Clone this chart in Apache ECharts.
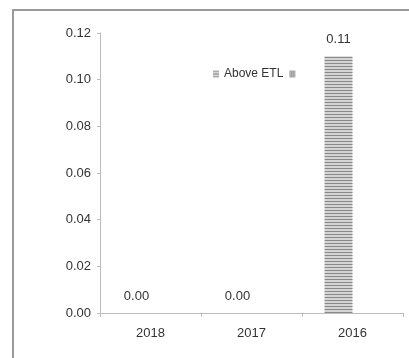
<!DOCTYPE html>
<html>
<head>
<meta charset="utf-8">
<script src="https://cdn.jsdelivr.net/npm/echarts@6/dist/echarts.min.js"></script>
<style>
  html, body { margin: 0; padding: 0; background: #fff; }
  #chart { width: 409px; height: 358px; }
</style>
</head>
<body>
<div id="chart"></div>
<script>
// Years on the category axis and the share of results above the ETL
const years = ['2018', '2017', '2016'];
const aboveEtl = [0.00, 0.00, 0.11];
const secondSeries = [null, null, null];
const yTicks = { min: 0, max: 0.12, interval: 0.02 };

// Striped fill used for the bars and legend markers
function stripePattern(dark, light, w, h, vertical) {
  const c = document.createElement('canvas');
  c.width = w; c.height = h;
  const ctx = c.getContext('2d');
  ctx.fillStyle = light;
  ctx.fillRect(0, 0, w, h);
  ctx.fillStyle = dark;
  if (vertical) ctx.fillRect(0, 0, 1, h);
  else ctx.fillRect(0, 0, w, 1);
  return { image: c, repeat: 'repeat' };
}

const font = '"Liberation Sans", Arial, sans-serif';
const textColor = '#333';

const chart = echarts.init(document.getElementById('chart'));
chart.setOption({
  animation: false,
  backgroundColor: '#fff',
  textStyle: { fontFamily: font },
  graphic: [{
    type: 'rect',
    shape: { x: 13, y: 10, width: 420, height: 400 },
    style: { fill: 'none', stroke: '#9a9a9a', lineWidth: 2 },
    silent: true
  }],
  grid: { left: 100, right: 6, top: 33, bottom: 45 },
  legend: {
    left: 208, top: 63,
    icon: 'rect',
    itemWidth: 6, itemHeight: 7, itemGap: 6,
    textStyle: { fontFamily: font, fontSize: 12, color: textColor },
    data: ['Above ETL', ' ']
  },
  xAxis: {
    type: 'category',
    data: years,
    axisLine: { lineStyle: { color: '#bdbdbd' } },
    axisTick: { show: true, length: 4, lineStyle: { color: '#bdbdbd' } },
    axisLabel: { fontFamily: font, fontSize: 13, color: textColor, margin: 14 }
  },
  yAxis: {
    type: 'value',
    min: yTicks.min, max: yTicks.max, interval: yTicks.interval,
    axisLine: { show: true, lineStyle: { color: '#bdbdbd' } },
    axisTick: { show: true, length: 3, lineStyle: { color: '#bdbdbd' } },
    splitLine: { show: false },
    axisLabel: {
      fontFamily: font, fontSize: 13, color: textColor, margin: 9,
      formatter: v => v.toFixed(2)
    }
  },
  series: [{
    name: 'Above ETL',
    type: 'bar',
    data: aboveEtl,
    barWidth: 28,
    barGap: '0%',
    itemStyle: { color: stripePattern('#8a8a8a', '#d4d4d4', 4, 3, false) },
    label: {
      show: true, position: 'top', distance: 10,
      fontFamily: font, fontSize: 13, color: textColor,
      formatter: p => p.value.toFixed(2)
    }
  }, {
    name: ' ',
    type: 'bar',
    data: secondSeries,
    barWidth: 28,
    itemStyle: { color: stripePattern('#8a8a8a', '#c8c8c8', 2, 4, true) }
  }]
});
</script>
</body>
</html>
